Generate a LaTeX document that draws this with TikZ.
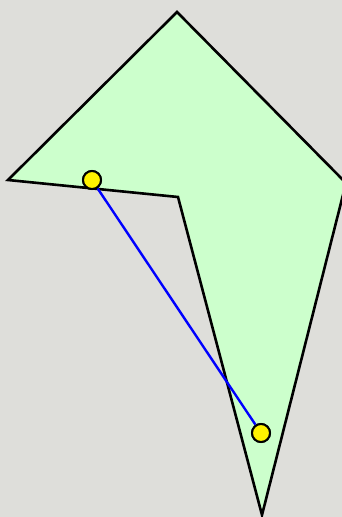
\documentclass[tikz,border=0pt]{standalone}
\definecolor{bgc}{RGB}{222,222,218}
\definecolor{polyc}{RGB}{204,255,204}
\begin{document}
\begin{tikzpicture}[x=1pt,y=-1pt,
  poly/.style={draw=black,line width=2.6pt,fill=polyc,line join=miter},
  seg/.style={draw=blue,line width=2.4pt},
  pt/.style={circle,draw=black,line width=2pt,fill=yellow,minimum size=18pt,inner sep=0pt}]
\fill[bgc] (0,0) rectangle (342,517);
\useasboundingbox (0,0) rectangle (342,517);
\begin{scope}
\clip (0,0) rectangle (342,517);
\draw[poly] (177,12) -- (346,183) -- (262,515) -- (178,197) -- (8,180) -- cycle;
\end{scope}
\node[pt] (a) at (92,180) {};
\node[pt] (b) at (261,433) {};
\draw[seg] (a) -- (b);
\node[pt] at (a) {};
\node[pt] at (b) {};
\end{tikzpicture}
\end{document}
